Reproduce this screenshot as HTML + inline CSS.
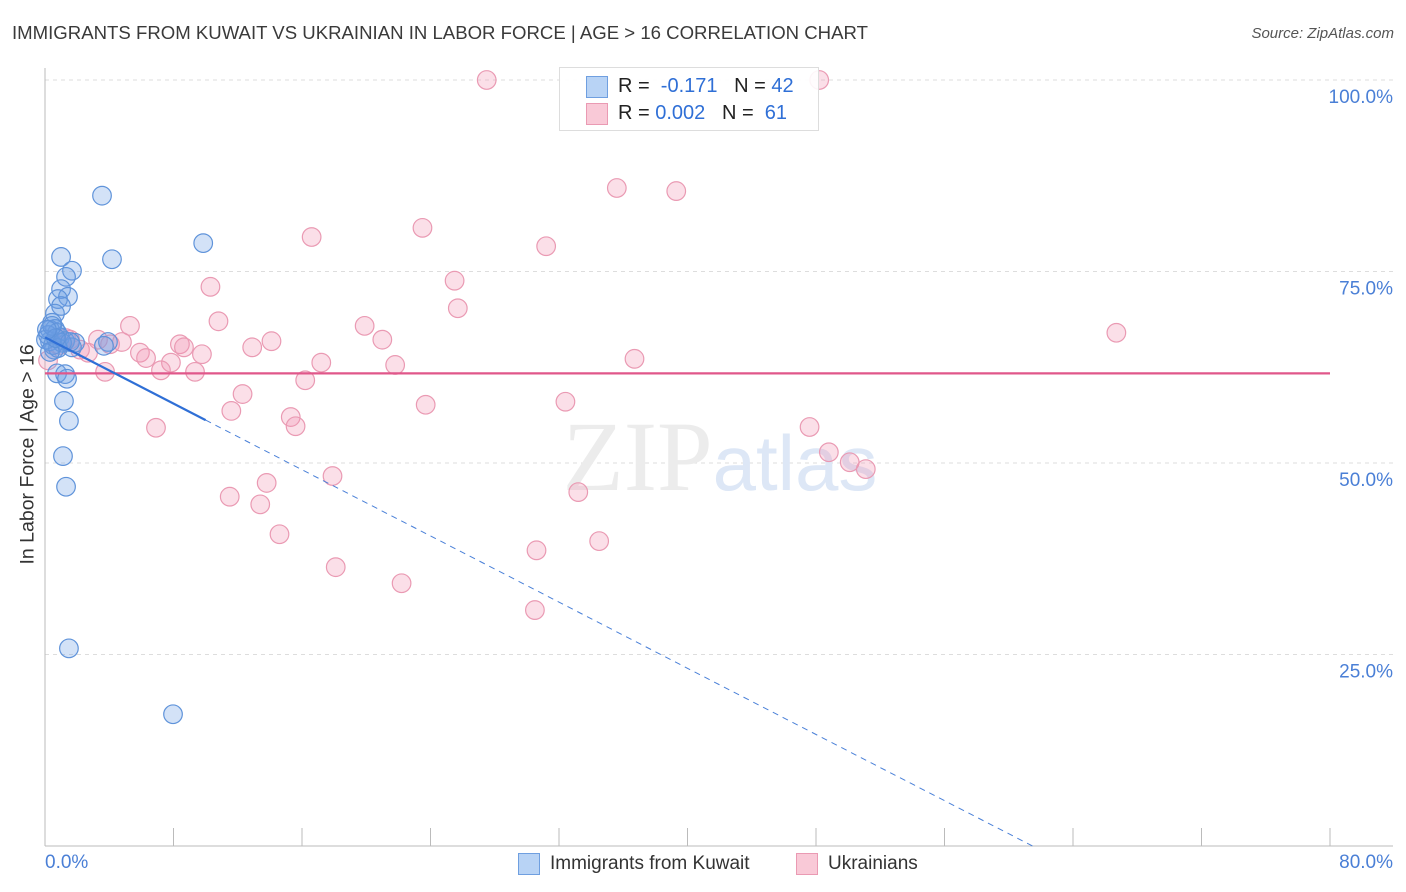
<!DOCTYPE html>
<html><head><meta charset="utf-8"><style>
body{margin:0;background:#fff;font-family:"Liberation Sans",sans-serif;}
#c{position:relative;width:1406px;height:892px;overflow:hidden}
.t{position:absolute;white-space:nowrap}
</style></head><body><div id="c">
<div class="t" style="left:12px;top:22px;font-size:18.6px;color:#3a3a3a">IMMIGRANTS FROM KUWAIT VS UKRAINIAN IN LABOR FORCE | AGE &gt; 16 CORRELATION CHART</div>
<div class="t" style="right:12px;top:25px;font-size:15px;font-style:italic;color:#555">Source: ZipAtlas.com</div>
<svg id="s" width="1406" height="892" style="position:absolute;left:0;top:0"></svg>
</div>
<script>
const yTicks=[25,50,75,100];
const yTickLabels=["25.0%","50.0%","75.0%","100.0%"];
const blueX=[3.55,9.85,4.17,1.0,1.68,1.31,1.0,1.43,0.81,1.0,0.62,0.44,0.62,0.31,0.75,0.93,0.31,1.25,1.68,3.92,0.56,0.75,1.25,1.37,1.18,1.49,1.12,1.31,1.49,7.97,0.19,0.5,1.87,3.67,0.06,0.44,1.06,0.81,0.31,1.56,0.68,0.12];
const blueY=[84.9,78.7,76.6,76.9,75.1,74.3,72.7,71.7,71.4,70.5,69.5,68.3,67.5,67.4,67.0,66.4,65.9,65.9,65.1,65.8,64.8,61.7,61.6,61.0,58.1,55.5,50.9,46.9,25.8,17.2,66.7,65.4,65.7,65.3,66.1,67.9,65.7,65.0,64.5,65.8,66.3,67.4];
const pinkX=[27.5,48.2,35.6,39.3,16.6,23.5,31.2,25.5,10.3,25.7,10.8,5.29,19.9,66.7,3.3,14.1,21.0,12.9,8.4,8.65,4.05,5.91,6.29,9.77,2.68,36.7,7.84,17.2,21.8,7.22,9.34,3.74,16.2,12.3,11.6,32.4,23.7,15.3,15.6,6.91,47.6,48.8,50.1,51.1,17.9,13.8,33.2,11.5,13.4,14.6,34.5,30.6,18.1,22.2,30.5,1.56,0.93,2.18,4.79,1.31,0.19];
const pinkY=[100,100,85.9,85.5,79.5,80.7,78.3,73.8,73.0,70.2,68.5,67.9,67.9,67.0,66.1,65.9,66.1,65.1,65.5,65.1,65.5,64.4,63.7,64.2,64.4,63.6,63.1,63.1,62.8,62.1,61.9,61.9,60.8,59.0,56.8,58.0,57.6,56.0,54.8,54.6,54.7,51.4,50.1,49.2,48.3,47.4,46.2,45.6,44.6,40.7,39.8,38.6,36.4,34.3,30.8,66.1,65.4,64.8,65.8,66.3,63.4];
const blueIntercept=66.4, blueSlope=-1.08, blueSolidEnd=10;
const pinkIntercept=61.7, pinkSlope=0;
const X=v=>45+v*1285/80, Y=v=>846-v*7.66;
const s=document.getElementById('s');const NS='http://www.w3.org/2000/svg';
function mk(t,a,p){const e=document.createElementNS(NS,t);for(const k in a)e.setAttribute(k,a[k]);(p||s).appendChild(e);return e;}
yTicks.forEach((v,i)=>{
 const g=mk('line',{x1:45,x2:1393,y1:Y(v),y2:Y(v),stroke:'#ddd','stroke-dasharray':'4,4'});
 
 
 const t=mk('text',{x:1393,y:Y(v)+23,'text-anchor':'end','font-size':19,fill:'#4a7fd6','font-family':'Liberation Sans'});
 t.textContent=yTickLabels[i];
 
 
});
const ax=mk('line',{x1:45,x2:45,y1:68,y2:846,stroke:'#bbb'});


const bx=mk('line',{x1:45,x2:1393,y1:846,y2:846,stroke:'#bbb'});


for(let i=0;i<=10;i++){const tk=mk('line',{x1:X(i*8),x2:X(i*8),y1:828,y2:846,stroke:'#bbb'});
 
 }
const wm=mk('text',{x:720,y:490,'text-anchor':'middle','font-size':100,fill:'#ececec','font-family':'Liberation Serif'});
wm.innerHTML='ZIP<tspan font-family="Liberation Sans" font-size="78" fill="#dde7f6">atlas</tspan>';


pinkX.forEach((x,i)=>{const c=mk('circle',{cx:X(x),cy:Y(pinkY[i]),r:9.3,fill:'rgba(242,150,180,0.3)',stroke:'#ea9ab3','stroke-width':1.2});
 
 });
blueX.forEach((x,i)=>{const c=mk('circle',{cx:X(x),cy:Y(blueY[i]),r:9.3,fill:'rgba(110,160,230,0.3)',stroke:'#5f93da','stroke-width':1.2});
 
 });
const pl=mk('line',{x1:X(0),x2:X(80),y1:Y(pinkIntercept),y2:Y(pinkIntercept+pinkSlope*80),stroke:'#e0578a','stroke-width':2.2});


const bz=-blueIntercept/blueSlope;
const bd=mk('line',{x1:X(blueSolidEnd),x2:X(bz),y1:Y(blueIntercept+blueSlope*blueSolidEnd),y2:Y(0),stroke:'#4a80d8','stroke-width':1,'stroke-dasharray':'6,5'});


const bl=mk('line',{x1:X(0),x2:X(blueSolidEnd),y1:Y(blueIntercept),y2:Y(blueIntercept+blueSlope*blueSolidEnd),stroke:'#2f6fd6','stroke-width':2.2});


</script>
<div class="t" style="left:45px;top:852px;font-size:19px;color:#4a7fd6">0.0%</div>
<div class="t" style="right:13px;top:852px;font-size:19px;color:#4a7fd6">80.0%</div>
<div class="t" style="left:-82px;top:443px;font-size:19.5px;color:#333;transform:rotate(-90deg);width:220px;text-align:center">In Labor Force | Age &gt; 16</div>
<div style="position:absolute;left:559px;top:67px;width:258px;height:62px;border:1px solid #ddd;background:rgba(255,255,255,0.9);font-size:20px;color:#222">
 <div style="position:absolute;left:26px;top:8px;width:20px;height:20px;background:#b8d3f5;border:1px solid #6f9fe0"></div>
 <div class="t" style="left:58px;top:7px">R = &nbsp;<span style="color:#2f6fd6">-0.171</span>&nbsp;&nbsp;&nbsp;N = <span style="color:#2f6fd6">42</span></div>
 <div style="position:absolute;left:26px;top:35px;width:20px;height:20px;background:#f9c9d7;border:1px solid #ea9ab3"></div>
 <div class="t" style="left:58px;top:34px">R = <span style="color:#2f6fd6">0.002</span>&nbsp;&nbsp;&nbsp;N = &nbsp;<span style="color:#2f6fd6">61</span></div>
</div>
<div style="position:absolute;left:518px;top:853px;width:20px;height:20px;background:#b8d3f5;border:1px solid #6f9fe0"></div>
<div class="t" style="left:550px;top:853px;font-size:19px;color:#333">Immigrants from Kuwait</div>
<div style="position:absolute;left:796px;top:853px;width:20px;height:20px;background:#f9c9d7;border:1px solid #ea9ab3"></div>
<div class="t" style="left:828px;top:853px;font-size:19px;color:#333">Ukrainians</div>
</body></html>
